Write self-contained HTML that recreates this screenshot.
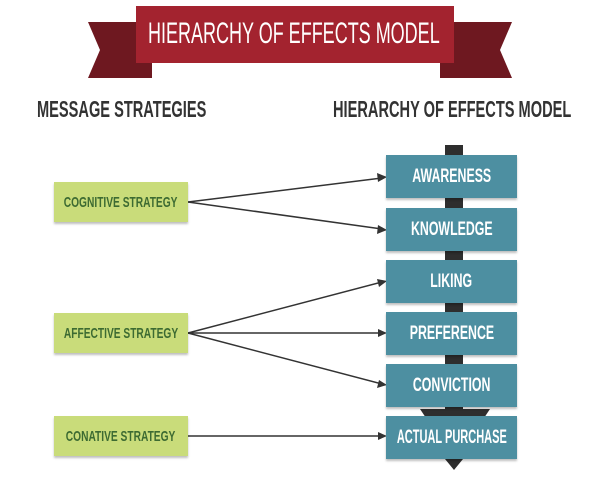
<!DOCTYPE html>
<html><head><style>
body{margin:0;width:600px;height:478px;background:#fff;position:relative;overflow:hidden;font-family:"Liberation Sans",sans-serif}
.t{position:absolute;white-space:nowrap;font-weight:bold;transform-origin:left center}
.b{position:absolute;background:#4d8fa1;color:#fff;left:386px;width:131px;height:43px;box-shadow:0 2px 2px rgba(0,0,0,.25)}
.g{position:absolute;background:#c9dc7a;left:54px;width:134px;height:40px;box-shadow:0 2px 2px rgba(0,0,0,.25)}
.lab{position:absolute;left:-40px;right:-40px;top:0;bottom:0;display:flex;align-items:center;justify-content:center}
.lab span{display:inline-block;transform:scaleX(.65);font-weight:bold;white-space:nowrap}
</style></head><body>
<svg width="600" height="478" style="position:absolute;left:0;top:0">
<polygon points="88,22 152,22 152,78 88,78 100,50" fill="#6e1820"/>
<polygon points="440,22 512,22 500,50 512,78 440,78" fill="#6e1820"/>
<rect x="136" y="6" width="318" height="57" fill="#a3232f"/>
<rect x="445" y="145" width="18" height="310" fill="#2e2e2e"/>
<polygon points="420,409 490,409 484,418 426,418" fill="#2e2e2e"/>
<polygon points="445,459 463,459 454,470" fill="#2e2e2e"/>
<g stroke="#333" stroke-width="1.5" fill="none">
<line x1="188" y1="202" x2="382" y2="178"/><line x1="188" y1="202" x2="382" y2="229"/>
<line x1="188" y1="333" x2="382" y2="282"/><line x1="188" y1="333" x2="382" y2="333"/><line x1="188" y1="333" x2="382" y2="384"/>
<line x1="188" y1="436" x2="382" y2="436"/>
</g>
<g fill="#333">
<polygon points="387,177 377,173 378,182"/><polygon points="387,230 378,225 377,234"/>
<polygon points="387,281 377,279 379,287"/><polygon points="387,333 378,329 378,337"/><polygon points="387,385 379,380 377,388"/>
<polygon points="387,436 378,432 378,440"/>
</g>
</svg>
<div class="t" style="left:148px;top:17px;color:#fff;font-size:30px;font-weight:normal;transform:scaleX(.6)">HIERARCHY OF EFFECTS MODEL</div>
<div class="t" style="left:37px;top:96px;color:#333;font-size:23px;transform:scaleX(.635)">MESSAGE STRATEGIES</div>
<div class="t" style="left:333px;top:96px;color:#333;font-size:23px;transform:scaleX(.635)">HIERARCHY OF EFFECTS MODEL</div>
<div class="b" style="top:155px"><div class="lab"><span style="font-size:19px">AWARENESS</span></div></div>
<div class="b" style="top:208px"><div class="lab"><span style="font-size:19px">KNOWLEDGE</span></div></div>
<div class="b" style="top:260px"><div class="lab"><span style="font-size:19px">LIKING</span></div></div>
<div class="b" style="top:312px"><div class="lab"><span style="font-size:19px">PREFERENCE</span></div></div>
<div class="b" style="top:364px"><div class="lab"><span style="font-size:19px">CONVICTION</span></div></div>
<div class="b" style="top:416px"><div class="lab"><span style="font-size:19px;transform:scaleX(.58)">ACTUAL PURCHASE</span></div></div>
<div class="g" style="top:182px;color:#3d6b32"><div class="lab"><span style="font-size:15px;transform:scaleX(.68)">COGNITIVE STRATEGY</span></div></div>
<div class="g" style="top:313px;color:#3d6b32"><div class="lab"><span style="font-size:15px;transform:scaleX(.68)">AFFECTIVE STRATEGY</span></div></div>
<div class="g" style="top:416px;color:#3d6b32"><div class="lab"><span style="font-size:15px;transform:scaleX(.68)">CONATIVE STRATEGY</span></div></div>
</body></html>
